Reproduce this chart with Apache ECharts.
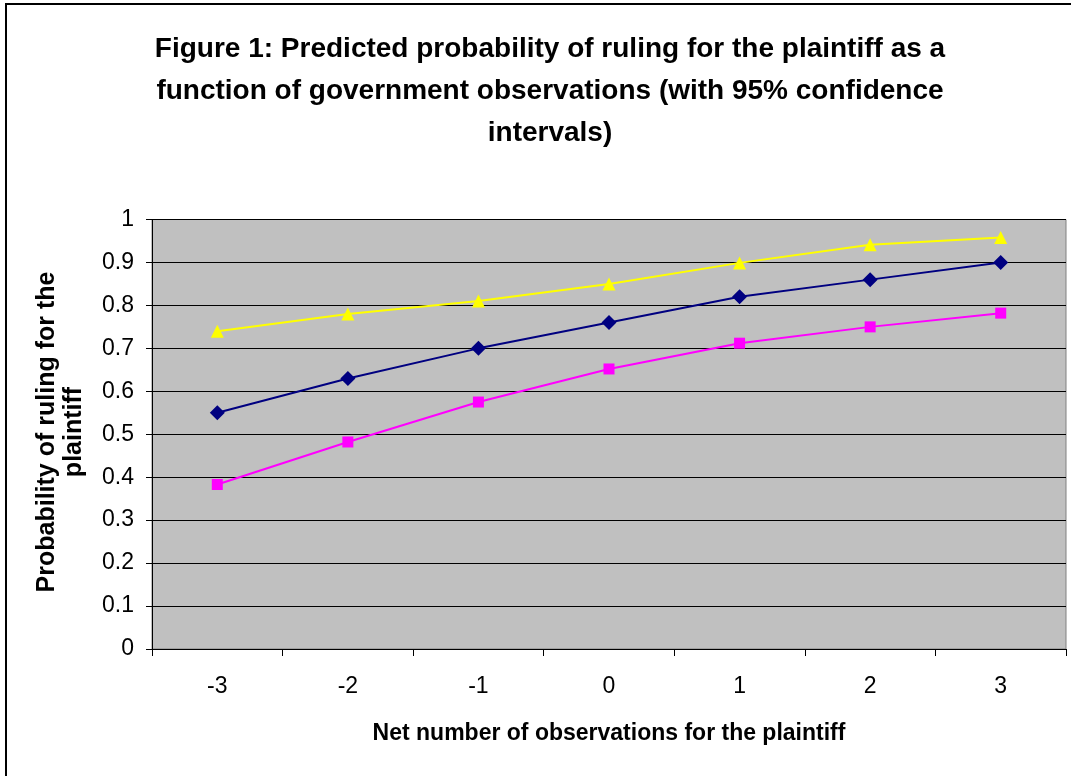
<!DOCTYPE html>
<html>
<head>
<meta charset="utf-8">
<script src="https://cdn.jsdelivr.net/npm/echarts@6/dist/echarts.min.js"></script>
<style>html,body{margin:0;padding:0;background:#fff}#c{width:1071px;height:776px}</style>
</head>
<body>
<div id="c"></div>
<script>
const categories = ['-3','-2','-1','0','1','2','3'];
const predicted = [0.55, 0.63, 0.70, 0.76, 0.82, 0.86, 0.90];
const lowerCI   = [0.383, 0.482, 0.575, 0.652, 0.712, 0.750, 0.782];
const upperCI   = [0.740, 0.780, 0.810, 0.850, 0.899, 0.941, 0.958];
const yTicks = [0,0.1,0.2,0.3,0.4,0.5,0.6,0.7,0.8,0.9,1];

const FONT = '"Liberation Sans", Arial, sans-serif';
const chart = echarts.init(document.getElementById('c'), null, {renderer:'canvas'});
chart.setOption({
  animation: false,
  backgroundColor: '#fff',
  title: {
    text: 'Figure 1: Predicted probability of ruling for the plaintiff as a\nfunction of government observations (with 95% confidence\nintervals)',
    left: 545, top: 23, textAlign: 'center',
    textStyle: {fontFamily: FONT, fontSize: 28, fontWeight: 'bold', color: '#000', lineHeight: 42}
  },
  graphic: [
    {type:'rect', shape:{x:6, y:4, width:1080, height:800}, style:{fill:'none', stroke:'#000', lineWidth:2}, z:-1},
    {type:'text', x: 61, y: 432, rotation: Math.PI/2, style:{text:'Probability of ruling for the\nplaintiff', font:'bold 25px "Liberation Sans", Arial, sans-serif', fill:'#000', align:'center', verticalAlign:'middle', textAlign:'center', textVerticalAlign:'middle', lineHeight:27}, z:10}
  ],
  grid: {left: 152, right: 5, top: 219.5, bottom: 127, show: true, backgroundColor: '#C0C0C0', borderColor: '#808080', borderWidth: 1},
  xAxis: {
    type: 'category', data: categories, boundaryGap: true,
    name: 'Net number of observations for the plaintiff', nameLocation: 'middle', nameGap: 73,
    nameTextStyle: {fontFamily: FONT, fontSize: 23, fontWeight: 'bold', color: '#000'},
    axisLine: {lineStyle: {color: '#000', width: 1}},
    axisTick: {show: true, length: 7, lineStyle: {color: '#000'}},
    axisLabel: {fontFamily: FONT, fontSize: 23, color: '#000', margin: 26},
    splitLine: {show: false}
  },
  yAxis: {
    type: 'value', min: 0, max: 1, interval: 0.1,
    axisLine: {show: true, lineStyle: {color: '#000', width: 1}},
    axisTick: {show: true, length: 6, lineStyle: {color: '#000'}},
    axisLabel: {fontFamily: FONT, fontSize: 23, color: '#000', margin: 18,
      formatter: v => { const t = yTicks.find(x => Math.abs(x - v) < 1e-9); return t === undefined ? '' : String(t); }},
    splitLine: {show: true, lineStyle: {color: '#000', width: 1}}
  },
  series: [
    {type:'line', name:'Predicted', data: predicted, symbol:'diamond', symbolSize: 15,
     lineStyle:{color:'#000080', width:2}, itemStyle:{color:'#000080'}, z:3},
    {type:'line', name:'Lower 95%', data: lowerCI, symbol:'rect', symbolSize: 11,
     lineStyle:{color:'#FF00FF', width:2}, itemStyle:{color:'#FF00FF'}, z:3},
    {type:'line', name:'Upper 95%', data: upperCI, symbol:'triangle', symbolSize: 13,
     lineStyle:{color:'#FFFF00', width:2}, itemStyle:{color:'#FFFF00'}, z:3}
  ]
});
</script>
</body>
</html>
